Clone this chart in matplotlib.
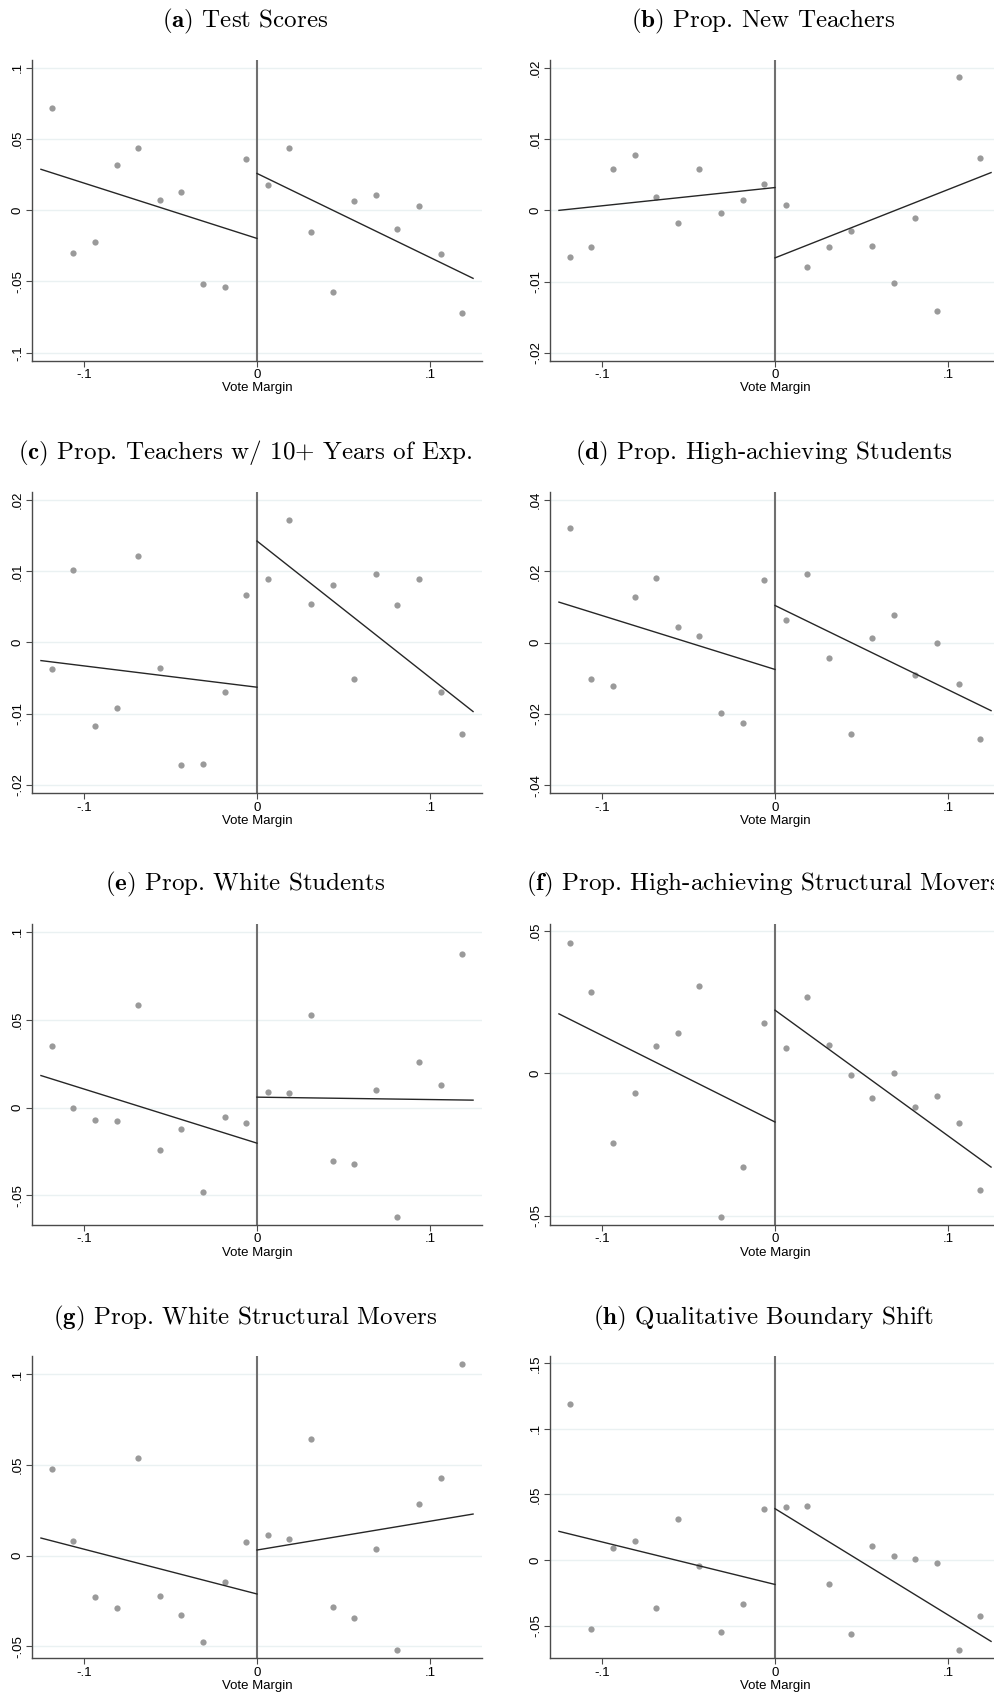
import matplotlib
matplotlib.use("Agg")
import matplotlib.pyplot as plt

plt.rcParams["mathtext.fontset"] = "cm"
plt.rcParams["axes.unicode_minus"] = False

# binned vote-margin centres (left and right of the cutoff)
BINS_L = [-0.11875, -0.10625, -0.09375, -0.08125, -0.06875, -0.05625, -0.04375, -0.03125, -0.01875, -0.00625]
BINS_R = [0.00625, 0.01875, 0.03125, 0.04375, 0.05625, 0.06875, 0.08125, 0.09375, 0.10625, 0.11875]

TITLES = [
    (r"$\mathbf{(a)}$", "Test Scores"),
    (r"$\mathbf{(b)}$", "Prop. New Teachers"),
    (r"$\mathbf{(c)}$", "Prop. Teachers w/ 10+ Years of Exp."),
    (r"$\mathbf{(d)}$", "Prop. High-achieving Students"),
    (r"$\mathbf{(e)}$", "Prop. White Students"),
    (r"$\mathbf{(f)}$", "Prop. High-achieving Structural Movers"),
    (r"$\mathbf{(g)}$", "Prop. White Structural Movers"),
    (r"$\mathbf{(h)}$", "Qualitative Boundary Shift"),
]

# bin means, left then right of the threshold
Y_LEFT = [
    [0.0717, -0.0298, -0.0223, 0.0317, 0.0433, 0.0069, 0.0127, -0.0520, -0.0539, 0.0361],
    [-0.00653, -0.00508, 0.00578, 0.00779, 0.00189, -0.00180, 0.00578, -0.00035, 0.00152, 0.00363],
    [-0.00377, 0.01018, -0.01172, -0.00924, 0.01214, -0.00353, -0.01719, -0.01705, -0.00699, 0.00667],
    [0.03205, -0.01015, -0.01221, 0.01287, 0.01820, 0.00426, 0.00192, -0.01988, -0.02269, 0.01754],
    [0.0350, -0.0002, -0.0070, -0.0074, 0.0583, -0.0244, -0.0123, -0.0483, -0.0055, -0.0091],
    [0.0457, 0.0286, -0.0246, -0.0070, 0.0096, 0.0142, 0.0304, -0.0504, -0.0327, 0.0177],
    [0.0479, 0.0081, -0.0229, -0.0286, 0.0539, -0.0220, -0.0327, -0.0475, -0.0145, 0.0073],
    [0.1192, -0.0522, 0.0089, 0.0143, -0.0364, 0.0311, -0.0048, -0.0545, -0.0336, 0.0392],
]
Y_RIGHT = [
    [0.0174, 0.0439, -0.0156, -0.0572, 0.0064, 0.0106, -0.0130, 0.0029, -0.0308, -0.0724],
    [0.00082, -0.00798, -0.00517, -0.00283, -0.00494, -0.01018, -0.00110, -0.01411, 0.01865, 0.00732],
    [0.00896, 0.01724, 0.00536, 0.00802, -0.00517, 0.00961, 0.00531, 0.00896, -0.00695, -0.01289],
    [0.00632, 0.01914, -0.00426, -0.02578, 0.00126, 0.00781, -0.00903, -0.00014, -0.01156, -0.02709],
    [0.0091, 0.0085, 0.0527, -0.0303, -0.0324, 0.0098, -0.0623, 0.0261, 0.0127, 0.0873],
    [0.0089, 0.0266, 0.0100, -0.0008, -0.0088, 0.0001, -0.0119, -0.0079, -0.0176, -0.0408],
    [0.0114, 0.0094, 0.0640, -0.0281, -0.0345, 0.0037, -0.0519, 0.0283, 0.0429, 0.1055],
    [0.0408, 0.0415, -0.0183, -0.0563, 0.0110, 0.0028, 0.0008, -0.0020, -0.0685, -0.0425],
]

# linear fits: value at -.125, at 0 (left), at 0 (right), at .125
FIT_X_L = [-0.125, 0.0]
FIT_X_R = [0.0, 0.125]
FITS = [
    [0.0287, -0.0198, 0.0258, -0.0478],
    [0.0000, 0.0032, -0.00667, 0.0053],
    [-0.00255, -0.00629, 0.01425, -0.00971],
    [0.01137, -0.00753, 0.01043, -0.0191],
    [0.0182, -0.0203, 0.0059, 0.0042],
    [0.0208, -0.0171, 0.0221, -0.0329],
    [0.0097, -0.0211, 0.0031, 0.0229],
    [0.0219, -0.0186, 0.0392, -0.0620],
]

Y_TICKS = [
    [-0.1, -0.05, 0, 0.05, 0.1],
    [-0.02, -0.01, 0, 0.01, 0.02],
    [-0.02, -0.01, 0, 0.01, 0.02],
    [-0.04, -0.02, 0, 0.02, 0.04],
    [-0.05, 0, 0.05, 0.1],
    [-0.05, 0, 0.05],
    [-0.05, 0, 0.05, 0.1],
    [-0.05, 0, 0.05, 0.1, 0.15],
]
Y_TICKLABELS = [
    ["-.1", "-.05", "0", ".05", ".1"],
    ["-.02", "-.01", "0", ".01", ".02"],
    ["-.02", "-.01", "0", ".01", ".02"],
    ["-.04", "-.02", "0", ".02", ".04"],
    ["-.05", "0", ".05", ".1"],
    ["-.05", "0", ".05"],
    ["-.05", "0", ".05", ".1"],
    ["-.05", "0", ".05", ".1", ".15"],
]
Y_LIMS = [
    (-0.1056, 0.1054),
    (-0.0211, 0.0211),
    (-0.0212, 0.0211),
    (-0.0423, 0.0422),
    (-0.0669, 0.1045),
    (-0.0532, 0.0523),
    (-0.0565, 0.1099),
    (-0.0749, 0.1556),
]
X_TICKS = [-0.1, 0, 0.1]
X_TICKLABELS = ["-.1", "0", ".1"]

W, H = 994, 1693
ROWS_PX = [(60, 360.7), (492.3, 793.3), (924, 1225), (1356, 1658.3)]
TITLE_Y_PX = [21.7, 453.3, 884.3, 1318.3]
COL_X_PX = [32.3, 550.3]
TITLE_X_PX = [245, 763.5]
AX_W_PX = 449.4

GRID = "#eaf1f2"
DOT = "#9a9a9a"
VLINE = "#707070"
SPINE = "#4a4a4a"
TICKFONT = "Liberation Sans"

fig = plt.figure(figsize=(W / 100, H / 100), dpi=100)

for i in range(8):
    row, col = divmod(i, 2)
    top, bot = ROWS_PX[row]
    ax = fig.add_axes([COL_X_PX[col] / W, 1 - bot / H, AX_W_PX / W, (bot - top) / H])

    ax.set_xlim(-0.13, 0.13)
    ax.set_ylim(*Y_LIMS[i])

    for t in Y_TICKS[i]:
        ax.axhline(t, color=GRID, lw=1.0, zorder=0)
    ax.axvline(0, color=VLINE, lw=1.5, zorder=1)

    ax.plot(BINS_L, Y_LEFT[i], "o", ms=4.5, color=DOT, mec="none", zorder=2)
    ax.plot(BINS_R, Y_RIGHT[i], "o", ms=4.5, color=DOT, mec="none", zorder=2)

    f = FITS[i]
    ax.plot(FIT_X_L, f[:2], color="#262626", lw=1.0, zorder=3)
    ax.plot(FIT_X_R, f[2:], color="#262626", lw=1.0, zorder=3)

    for s in ("top", "right"):
        ax.spines[s].set_visible(False)
    for s in ("left", "bottom"):
        ax.spines[s].set_color(SPINE)
        ax.spines[s].set_linewidth(1.0)

    ax.set_xticks(X_TICKS)
    ax.set_xticklabels(X_TICKLABELS, fontsize=9.5, family=TICKFONT)
    ax.set_yticks(Y_TICKS[i])
    ax.set_yticklabels(Y_TICKLABELS[i], fontsize=9.5, family=TICKFONT,
                       rotation=90, va="center")
    ax.tick_params(length=4, width=0.8, color=SPINE, pad=2)
    ax.set_xlabel("Vote Margin", fontsize=9.5, family=TICKFONT, labelpad=1)

    lab, txt = TITLES[i]
    fig.text(TITLE_X_PX[col] / W, 1 - TITLE_Y_PX[row] / H, lab + " " + txt,
             family="cmr10", fontsize=18, ha="center", va="center")

fig.savefig("out.png", dpi=100, facecolor="white")
